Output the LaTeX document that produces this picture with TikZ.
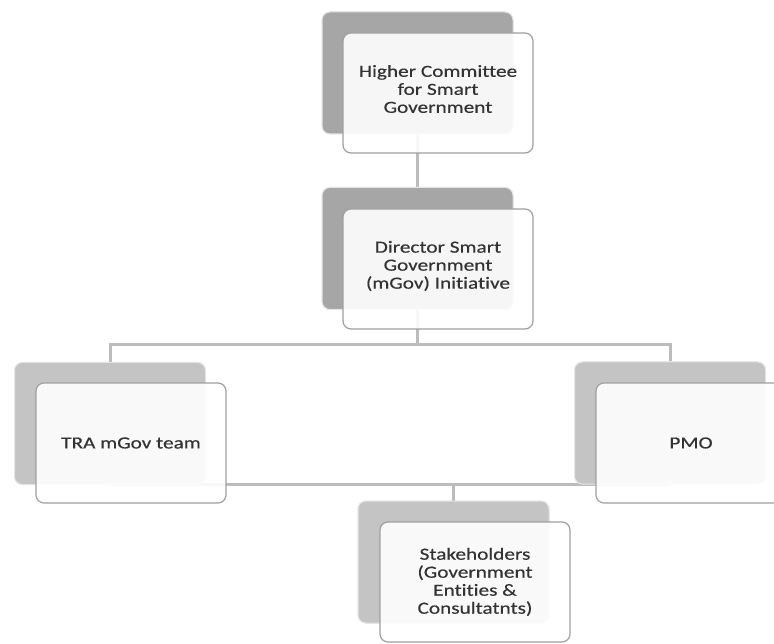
\documentclass[tikz,border=0pt]{standalone}
\usepackage{fontspec}
\setmainfont{Carlito}[FakeStretch=1.25,Ligatures={NoCommon},FakeBold=0.4]
\definecolor{backdark}{HTML}{A6A6A6}
\definecolor{backlight}{HTML}{C4C4C4}
\definecolor{frameline}{HTML}{A0A0A0}
\definecolor{conn}{HTML}{BCBCBC}
\definecolor{txt}{HTML}{333333}
\begin{document}
\begin{tikzpicture}[x=1pt,y=-1pt,
  backbox/.style={rounded corners=8pt, minimum width=191pt, minimum height=122pt,
    draw=white!80!gray, line width=1pt, inner sep=0pt},
  frontbox/.style={rounded corners=8pt, minimum width=190pt, minimum height=120pt,
    draw=frameline, line width=1.2pt, fill=white, fill opacity=0.9, text opacity=1,
    inner sep=0pt, align=center, text=txt, font=\fontsize{17}{18}\selectfont},
  connector/.style={draw=conn, line width=3pt}]
\useasboundingbox (0,0) rectangle (774,644);
% back boxes (positions)
\node[backbox, fill=backdark] (hb) at (417.5,73) {};
\node[backbox, fill=backdark] (db) at (417.5,248.5) {};
\node[backbox, fill=backlight] (tb) at (110,423.5) {};
\node[backbox, fill=backlight] (pb) at (670,423) {};
\node[backbox, fill=backlight] (sb) at (453.5,562) {};
% connectors
\coordinate (j1) at (417.5,345);
\coordinate (j2) at (453.5,484);
\draw[connector] (hb.south) -- (db.north);
\draw[connector] (db.south) -- (j1);
\draw[connector] (tb.north) -- (tb.north |- j1) -- (pb.north |- j1) -- (pb.north);
\draw[connector] (tb.center |- j2) -- (pb.center |- j2);
\draw[connector] (j2) -- (sb.north);
% redraw back boxes over connectors
\node[backbox, fill=backdark] at (hb) {};
\node[backbox, fill=backdark] at (db) {};
\node[backbox, fill=backlight] at (tb) {};
\node[backbox, fill=backlight] at (pb) {};
\node[backbox, fill=backlight] at (sb) {};
% front boxes
\node[frontbox] (hf) at (438,93) {};
\node[frontbox] (df) at (438,269) {};
\node[frontbox] (tf) at (131,443) {};
\node[frontbox] (pf) at (691,443) {};
\node[frontbox] (sf) at (475,582) {};
% texts
\node[frontbox, draw=none, fill=none] (ht) at ([yshift=4pt]hf.center) {Higher Committee\\for Smart\\Government};
\node[frontbox, draw=none, fill=none] (dt) at ([yshift=3pt]df.center) {Director Smart\\Government\\(mGov) Initiative};
\node[frontbox, draw=none, fill=none] (tt) at (tf.center) {TRA mGov team};
\node[frontbox, draw=none, fill=none] (pt) at (pf.center) {PMO};
\node[frontbox, draw=none, fill=none] (st) at (sf.center) {Stakeholders\\(Government\\Entities \&\\Consultatnts)};
\end{tikzpicture}
\end{document}
